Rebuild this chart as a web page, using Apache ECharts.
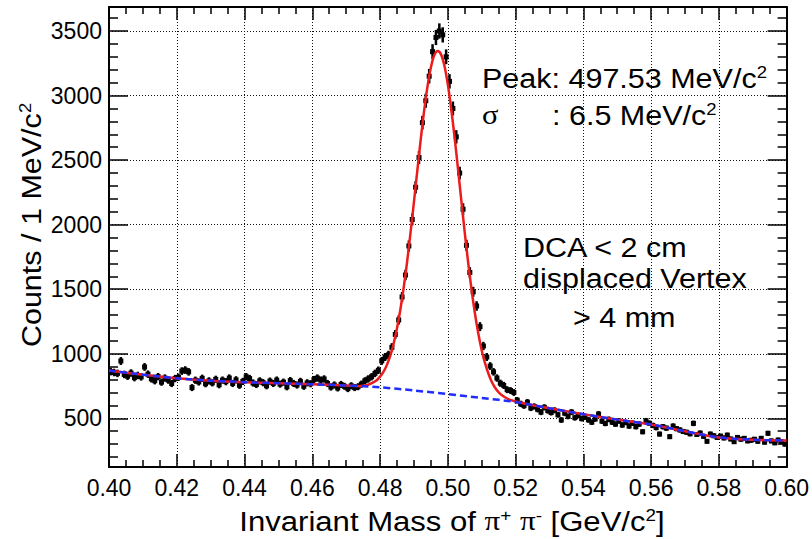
<!DOCTYPE html>
<html><head><meta charset="utf-8">
<script src="https://cdn.jsdelivr.net/npm/echarts@6/dist/echarts.min.js"></script>
<style>html,body{margin:0;padding:0;background:#fff}#c{width:812px;height:539px}</style>
</head><body><div id="c"></div><script>
// ---- data ----
const binLow = 0.400;      // GeV
const binWidth = 0.001;    // GeV (1 MeV bins)
const counts = [
  862, 855, 848, 944, 840, 826, 851, 815, 832, 821,
  898, 842, 806, 791, 823, 780, 812, 796, 770, 808,
  818, 866, 874, 860, 738, 795, 782, 810, 768, 790,
  775, 802, 760, 796, 784, 812, 770, 798, 756, 786,
  822, 808, 774, 762, 790, 776, 752, 788, 770, 796,
  765, 780, 744, 792, 770, 758, 786, 748, 775, 768,
  800, 812, 796, 805, 770, 742, 758, 735, 762, 748,
  730, 752, 738, 745, 765, 790, 805, 822, 848, 872,
  945, 975, 992, 1050, 1150, 1262, 1440, 1610, 1835, 2040,
  2290, 2520, 2790, 2960, 3150, 3340, 3450, 3500, 3470, 3300,
  3110, 2900, 2680, 2400, 2120, 1840, 1630, 1480, 1370, 1210,
  1060, 975, 905, 860, 812, 772, 755, 722, 715, 700,
  640, 612, 598, 625, 580, 592, 570, 548, 585, 560,
  545, 562, 528, 487, 540, 515, 548, 505, 522, 498,
  510, 488, 470, 495, 533, 478, 460, 492, 470, 455,
  480, 448, 468, 440, 462, 435, 455, 396, 481, 462,
  445, 428, 378, 435, 424, 358, 440, 420, 410, 398,
  392, 380, 461, 375, 386, 360, 322, 378, 365, 352,
  362, 348, 370, 340, 319, 352, 338, 345, 325, 330,
  338, 322, 345, 315, 384, 325, 310, 332, 318, 300
];
// red fit curve (signal + background)
const fitMass = [0.400,0.410,0.420,0.430,0.440,0.450,0.460,0.470,0.474,0.475,0.476,0.477,0.478,0.479,
  0.480,0.481,0.482,0.483,0.484,0.485,0.486,0.487,0.488,0.489,0.490,0.491,0.492,0.493,0.494,0.495,
  0.496,0.497,0.498,0.499,0.500,0.501,0.502,0.503,0.504,0.505,0.506,0.507,0.508,0.509,0.510,0.511,
  0.512,0.513,0.514,0.515,0.516,0.517,0.518,0.519,0.520,0.521,0.522,0.523,0.525,0.530,0.540,0.550,
  0.560,0.570,0.580,0.590,0.600];
const fitValues = [870,838,810,792,780,772,764,754,749,752,757,766,778,795,
  823,860,912,984,1078,1197,1343,1516,1716,1939,2175,2419,2658,2879,3069,3217,
  3312,3346,3319,3231,3087,2898,2677,2434,2184,1939,1708,1498,1314,1157,1028,925,
  845,781,735,702,678,661,647,638,631,624,618,613,602,578,532,490,
  452,400,352,334,328];
// blue dashed background
const bgMass = [0.400,0.410,0.420,0.430,0.440,0.450,0.460,0.470,0.480,0.490,0.500,0.510,0.520,
  0.530,0.540,0.550,0.560,0.570,0.580,0.590,0.600];
const bgValues = [870,838,810,792,780,772,764,754,740,716,688,658,626,578,532,490,452,400,352,334,328];
// axis ticks
const xMin = 0.40, xMax = 0.60, xStep = 0.02;
const yMin = 123, yMax = 3686;
const yTicks = [500,1000,1500,2000,2500,3000,3500];
const yMinorTicks = [200,300,400,600,700,800,900,1100,1200,1300,1400,1600,1700,1800,1900,
  2100,2200,2300,2400,2600,2700,2800,2900,3100,3200,3300,3400,3600];

const FONT = '"Liberation Sans", Arial, Helvetica, sans-serif';
const SERIF = '"Liberation Serif", "Times New Roman", serif';

const histData = counts.map((v, i) => [binLow + (i + 0.5) * binWidth, v, Math.sqrt(v)]);

const chart = echarts.init(document.getElementById('c'), null, {renderer: 'svg'});

const dotted = {type: [1, 2], color: '#111', width: 1};
const tickStyle = {color: '#000', width: 1.5};
const frame = {show: true, onZero: false, lineStyle: {color: '#000', width: 2}};

function xAx(pos, main) {
  return {
    type: 'value', position: pos, min: xMin, max: xMax, interval: xStep,
    axisLine: frame,
    axisTick: {show: true, inside: true, length: 13, lineStyle: tickStyle},
    minorTick: {show: true, splitNumber: 4, length: 7, lineStyle: tickStyle},
    splitLine: {show: main, lineStyle: dotted},
    axisLabel: main ? {show: true, fontSize: 23, fontFamily: FONT, color: '#000', margin: 9,
      formatter: v => v.toFixed(2)} : {show: false}
  };
}
function yAx(pos, ticks, len, main, line) {
  return {
    type: 'value', position: pos, min: yMin, max: yMax,
    axisLine: line ? frame : {show: false},
    axisTick: {show: true, inside: true, length: len, lineStyle: tickStyle, customValues: ticks},
    minorTick: {show: false},
    splitLine: {show: main, lineStyle: dotted},
    axisLabel: main ? {show: true, fontSize: 23, fontFamily: FONT, color: '#000', margin: 7,
      customValues: ticks, formatter: v => String(Math.round(v))} : {show: false}
  };
}

const richMain = {
  t: {fontSize: 28, fontFamily: FONT, fill: '#000'},
  s: {fontSize: 17, fontFamily: FONT, fill: '#000', verticalAlign: 'top'},
  g: {fontSize: 28, fontFamily: SERIF, fill: '#000'}
};
function txt(x, y, text, align, sx, rot) {
  return {
    type: 'text', x: x, y: y, scaleX: sx || 1.09, rotation: rot || 0, z: 100,
    style: {text: text, rich: richMain, fill: '#000', align: align || 'left', verticalAlign: 'middle',
      fontSize: 28, fontFamily: FONT}
  };
}

chart.setOption({
  animation: false,
  backgroundColor: '#fff',
  grid: {left: 109, right: 25, top: 7, bottom: 72, containLabel: false},
  xAxis: [xAx('bottom', true), xAx('top', false)],
  yAxis: [
    yAx('left', yTicks, 19, true, true),
    yAx('left', yMinorTicks, 9, false, false),
    yAx('right', yTicks, 19, false, true),
    yAx('right', yMinorTicks, 9, false, false)
  ],
  series: [
    {
      type: 'custom', xAxisIndex: 0, yAxisIndex: 0, z: 2, clip: true,
      data: histData,
      renderItem: function (params, api) {
        const x = api.value(0), y = api.value(1), e = api.value(2);
        const c = api.coord([x, y]);
        const t = api.coord([x, y + e]);
        const b = api.coord([x, y - e]);
        const l = api.coord([x - binWidth / 2, y]);
        const r = api.coord([x + binWidth / 2, y]);
        return {type: 'group', children: [
          {type: 'line', shape: {x1: c[0], y1: t[1], x2: c[0], y2: b[1]}, style: {stroke: '#000', lineWidth: 2.5}},
          {type: 'line', shape: {x1: l[0], y1: c[1], x2: r[0], y2: c[1]}, style: {stroke: '#000', lineWidth: 2.5}},
          {type: 'rect', shape: {x: c[0] - 2.5, y: c[1] - 2.5, width: 5, height: 5}, style: {fill: '#000'}}
        ]};
      }
    },
    {
      type: 'line', xAxisIndex: 0, yAxisIndex: 0, z: 3, showSymbol: false, smooth: 0.3,
      data: fitMass.map((m, i) => [m, fitValues[i]]),
      lineStyle: {color: '#ec1c1c', width: 2.5}
    },
    {
      type: 'line', xAxisIndex: 0, yAxisIndex: 0, z: 4, showSymbol: false, smooth: 0.3,
      data: bgMass.map((m, i) => [m, bgValues[i]]),
      lineStyle: {color: '#1f2dff', width: 2.5, type: [7, 4]}
    }
  ],
  graphic: [
    txt(482, 78, '{t|Peak: 497.53 MeV/c}{s|2}'),
    txt(482, 114, '{g|σ}'),
    txt(552, 115, '{t|: 6.5 MeV/c}{s|2}'),
    txt(523, 247, '{t|DCA < 2 cm}'),
    txt(523, 278, '{t|displaced Vertex}'),
    txt(573, 317, '{t|> 4 mm}'),
    txt(452, 521, '{t|Invariant Mass of }{g|π}{s|+}{t| }{g|π}{s|-}{t| [GeV/c}{s|2}{t|]}', 'center', 1.11),
    txt(31, 225, '{t|Counts / 1 MeV/c}{s|2}', 'center', 1.09, Math.PI / 2)
  ]
});
</script></body></html>
